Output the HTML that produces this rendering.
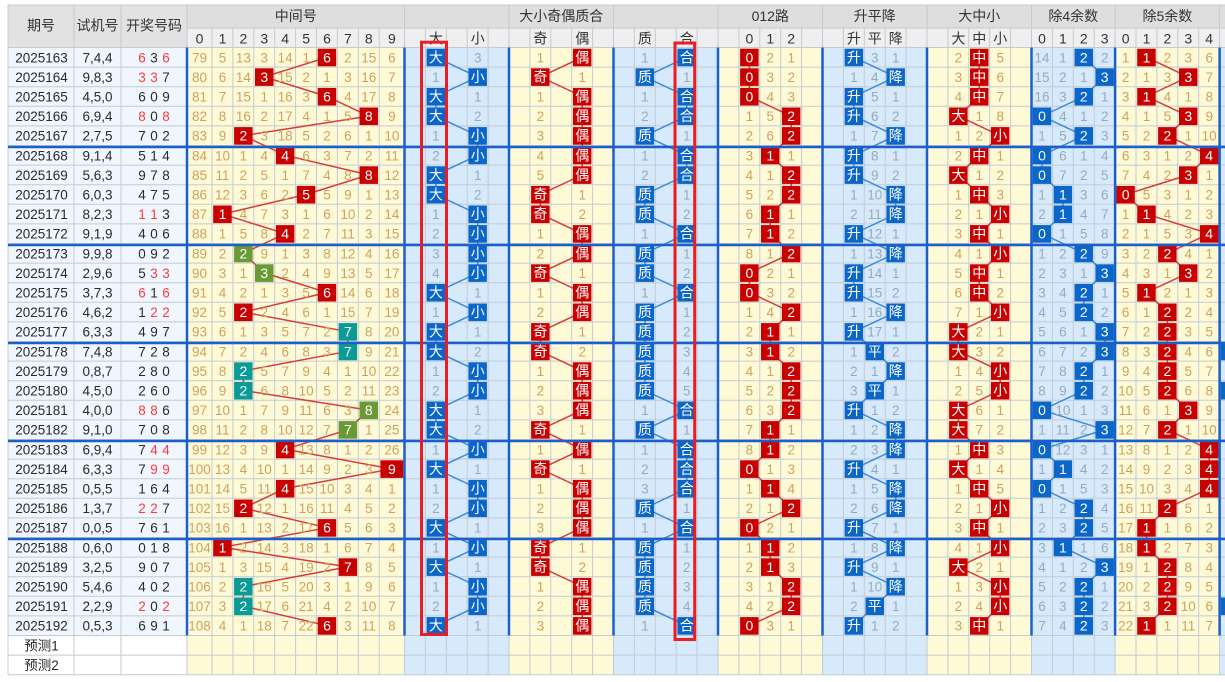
<!DOCTYPE html>
<html><head><meta charset="utf-8">
<style>
html,body{margin:0;padding:0;background:#fff}
body{width:1225px;height:682px;overflow:hidden}
svg{display:block}
text{font-family:"Liberation Sans","Noto Sans CJK SC",sans-serif;font-size:13.5px;text-anchor:middle}
.k{fill:#2a2a2a}
.rd{fill:#ff3a3a}
.t{fill:#c9a266}
.g{fill:#9aa9b9}
.w{fill:#fff;font-size:14px}
.h{fill:#333;font-size:14px}
.R{fill:#c80000}
.B{fill:#0a66c8}
.G{fill:#6a9a35}
.C{fill:#0a9b97}
</style></head><body>
<svg width="1225" height="682" viewBox="0 0 1225 682">
<!-- header bg -->
<rect x="8" y="5" width="1217" height="23" fill="#dedede"/>
<rect x="187" y="28" width="1038" height="19.5" fill="#efefef"/>
<rect x="8" y="5" width="179" height="42.5" fill="#e2e2e2"/>
<!-- body bg -->
<rect x="8" y="47.5" width="179" height="588" fill="#f0f6fd"/>
<g fill="#fffad6">
<rect x="187" y="47.5" width="217.5" height="627.2"/>
<rect x="509" y="47.5" width="104.5" height="627.2"/>
<rect x="718" y="47.5" width="104.5" height="627.2"/>
<rect x="927" y="47.5" width="104.5" height="627.2"/>
<rect x="1115.1" y="47.5" width="104.5" height="627.2"/>
</g>
<g fill="#d6eafb">
<rect x="404.5" y="47.5" width="104.5" height="627.2"/>
<rect x="613.5" y="47.5" width="104.5" height="627.2"/>
<rect x="822.5" y="47.5" width="104.5" height="627.2"/>
<rect x="1031.5" y="47.5" width="83.6" height="627.2"/>
<rect x="1219.6" y="47.5" width="6" height="627.2"/>
</g>
<!-- grid -->
<path fill="none" stroke="#c3cad3" stroke-width="1" d="M8 5V674.7M74 5V674.7M121 5V674.7M187 5V674.7M404.5 5V674.7M509 5V674.7M613.5 5V674.7M718 5V674.7M822.5 5V674.7M927 5V674.7M1031.5 5V674.7M1115.1 5V674.7M1219.6 5V674.7
M212 28V674.7M232.9 28V674.7M253.8 28V674.7M274.7 28V674.7M295.6 28V674.7M316.5 28V674.7M337.4 28V674.7M358.3 28V674.7M379.2 28V674.7
M425.4 28V674.7M446.3 28V674.7M467.2 28V674.7M488.1 28V674.7M529.9 28V674.7M550.8 28V674.7M571.7 28V674.7M592.6 28V674.7M634.4 28V674.7M655.3 28V674.7M676.2 28V674.7M697.1 28V674.7
M738.9 28V674.7M759.8 28V674.7M780.7 28V674.7M801.6 28V674.7M843.4 28V674.7M864.3 28V674.7M885.2 28V674.7M906.1 28V674.7M947.9 28V674.7M968.8 28V674.7M989.7 28V674.7M1010.6 28V674.7
M1052.4 28V674.7M1073.3 28V674.7M1094.2 28V674.7M1136 28V674.7M1156.9 28V674.7M1177.8 28V674.7M1198.7 28V674.7
M8 5H1225M187 28H1225M8 47.5H1225M8 67.1H1225M8 86.7H1225M8 106.3H1225M8 125.9H1225M8 145.5H1225M8 165.1H1225M8 184.7H1225M8 204.3H1225M8 223.9H1225M8 243.5H1225M8 263.1H1225M8 282.7H1225M8 302.3H1225M8 321.9H1225M8 341.5H1225M8 361.1H1225M8 380.7H1225M8 400.3H1225M8 419.9H1225M8 439.5H1225M8 459.1H1225M8 478.7H1225M8 498.3H1225M8 517.9H1225M8 537.5H1225M8 557.1H1225M8 576.7H1225M8 596.3H1225M8 615.9H1225M8 635.5H1225M8 655.1H1225M8 674.7H1225"/>
<!-- header text -->
<text class="h" y="30.5"><tspan x="41">期号</tspan><tspan x="97.5">试机号</tspan><tspan x="154">开奖号码</tspan></text>
<text class="h" y="21"><tspan x="295.8">中间号</tspan><tspan x="561.3">大小奇偶质合</tspan><tspan x="770.3">012路</tspan><tspan x="874.8">升平降</tspan><tspan x="979.3">大中小</tspan><tspan x="1073.3">除4余数</tspan><tspan x="1167.4">除5余数</tspan></text>
<text class="h" y="43.5"><tspan x="199.5">0</tspan><tspan x="222.5">1</tspan><tspan x="243.4">2</tspan><tspan x="264.3">3</tspan><tspan x="285.2">4</tspan><tspan x="306.1">5</tspan><tspan x="327">6</tspan><tspan x="347.9">7</tspan><tspan x="368.8">8</tspan><tspan x="391.9">9</tspan><tspan x="435.9">大</tspan><tspan x="477.7">小</tspan><tspan x="540.4">奇</tspan><tspan x="582.2">偶</tspan><tspan x="644.9">质</tspan><tspan x="686.7">合</tspan><tspan x="749.4">0</tspan><tspan x="770.3">1</tspan><tspan x="791.2">2</tspan><tspan x="853.9">升</tspan><tspan x="874.8">平</tspan><tspan x="895.7">降</tspan><tspan x="958.4">大</tspan><tspan x="979.3">中</tspan><tspan x="1000.2">小</tspan><tspan x="1042">0</tspan><tspan x="1062.9">1</tspan><tspan x="1083.8">2</tspan><tspan x="1104.7">3</tspan><tspan x="1125.6">0</tspan><tspan x="1146.5">1</tspan><tspan x="1167.4">2</tspan><tspan x="1188.3">3</tspan><tspan x="1209.2">4</tspan></text>
<!-- connectors -->
<g fill="none" stroke-width="1.5">
<polyline stroke="#d63c3c" points="327,57.3 264.3,76.9 327,96.5 368.8,116.1 243.4,135.7 285.2,155.3 368.8,174.9 306.1,194.5 222.5,214.1 285.2,233.7 243.4,253.3 264.3,272.9 327,292.5 243.4,312.1 347.9,331.7 347.9,351.3 243.4,370.9 243.4,390.5 368.8,410.1 347.9,429.7 285.2,449.3 391.9,468.9 285.2,488.5 243.4,508.1 327,527.7 222.5,547.3 347.9,566.9 243.4,586.5 243.4,606.1 327,625.7"/>
<polyline stroke="#3d8ad9" points="435.9,57.3 477.7,76.9 435.9,96.5 435.9,116.1 477.7,135.7 477.7,155.3 435.9,174.9 435.9,194.5 477.7,214.1 477.7,233.7 477.7,253.3 477.7,272.9 435.9,292.5 477.7,312.1 435.9,331.7 435.9,351.3 477.7,370.9 477.7,390.5 435.9,410.1 435.9,429.7 477.7,449.3 435.9,468.9 477.7,488.5 477.7,508.1 435.9,527.7 477.7,547.3 435.9,566.9 477.7,586.5 477.7,606.1 435.9,625.7"/>
<polyline stroke="#d63c3c" points="582.2,57.3 540.4,76.9 582.2,96.5 582.2,116.1 582.2,135.7 582.2,155.3 582.2,174.9 540.4,194.5 540.4,214.1 582.2,233.7 582.2,253.3 540.4,272.9 582.2,292.5 582.2,312.1 540.4,331.7 540.4,351.3 582.2,370.9 582.2,390.5 582.2,410.1 540.4,429.7 582.2,449.3 540.4,468.9 582.2,488.5 582.2,508.1 582.2,527.7 540.4,547.3 540.4,566.9 582.2,586.5 582.2,606.1 582.2,625.7"/>
<polyline stroke="#3d8ad9" points="686.7,57.3 644.9,76.9 686.7,96.5 686.7,116.1 644.9,135.7 686.7,155.3 686.7,174.9 644.9,194.5 644.9,214.1 686.7,233.7 644.9,253.3 644.9,272.9 686.7,292.5 644.9,312.1 644.9,331.7 644.9,351.3 644.9,370.9 644.9,390.5 686.7,410.1 644.9,429.7 686.7,449.3 686.7,468.9 686.7,488.5 644.9,508.1 686.7,527.7 644.9,547.3 644.9,566.9 644.9,586.5 644.9,606.1 686.7,625.7"/>
<polyline stroke="#d63c3c" points="749.4,57.3 749.4,76.9 749.4,96.5 791.2,116.1 791.2,135.7 770.3,155.3 791.2,174.9 791.2,194.5 770.3,214.1 770.3,233.7 791.2,253.3 749.4,272.9 749.4,292.5 791.2,312.1 770.3,331.7 770.3,351.3 791.2,370.9 791.2,390.5 791.2,410.1 770.3,429.7 770.3,449.3 749.4,468.9 770.3,488.5 791.2,508.1 749.4,527.7 770.3,547.3 770.3,566.9 791.2,586.5 791.2,606.1 749.4,625.7"/>
<polyline stroke="#3d8ad9" points="853.9,57.3 895.7,76.9 853.9,96.5 853.9,116.1 895.7,135.7 853.9,155.3 853.9,174.9 895.7,194.5 895.7,214.1 853.9,233.7 895.7,253.3 853.9,272.9 853.9,292.5 895.7,312.1 853.9,331.7 874.8,351.3 895.7,370.9 874.8,390.5 853.9,410.1 895.7,429.7 895.7,449.3 853.9,468.9 895.7,488.5 895.7,508.1 853.9,527.7 895.7,547.3 853.9,566.9 895.7,586.5 874.8,606.1 853.9,625.7"/>
<polyline stroke="#d63c3c" points="979.3,57.3 979.3,76.9 979.3,96.5 958.4,116.1 1000.2,135.7 979.3,155.3 958.4,174.9 979.3,194.5 1000.2,214.1 979.3,233.7 1000.2,253.3 979.3,272.9 979.3,292.5 1000.2,312.1 958.4,331.7 958.4,351.3 1000.2,370.9 1000.2,390.5 958.4,410.1 958.4,429.7 979.3,449.3 958.4,468.9 979.3,488.5 1000.2,508.1 979.3,527.7 1000.2,547.3 958.4,566.9 1000.2,586.5 1000.2,606.1 979.3,625.7"/>
<polyline stroke="#3d8ad9" points="1083.8,57.3 1104.7,76.9 1083.8,96.5 1042,116.1 1083.8,135.7 1042,155.3 1042,174.9 1062.9,194.5 1062.9,214.1 1042,233.7 1083.8,253.3 1104.7,272.9 1083.8,292.5 1083.8,312.1 1104.7,331.7 1104.7,351.3 1083.8,370.9 1083.8,390.5 1042,410.1 1104.7,429.7 1042,449.3 1062.9,468.9 1042,488.5 1083.8,508.1 1083.8,527.7 1062.9,547.3 1104.7,566.9 1083.8,586.5 1083.8,606.1 1083.8,625.7"/>
<polyline stroke="#d63c3c" points="1146.5,57.3 1188.3,76.9 1146.5,96.5 1188.3,116.1 1167.4,135.7 1209.2,155.3 1188.3,174.9 1125.6,194.5 1146.5,214.1 1209.2,233.7 1167.4,253.3 1188.3,272.9 1146.5,292.5 1167.4,312.1 1167.4,331.7 1167.4,351.3 1167.4,370.9 1167.4,390.5 1188.3,410.1 1167.4,429.7 1209.2,449.3 1209.2,468.9 1209.2,488.5 1167.4,508.1 1146.5,527.7 1146.5,547.3 1167.4,566.9 1167.4,586.5 1167.4,606.1 1146.5,625.7"/>
</g>

<!-- rows -->
<g transform="translate(0,47.5)">
<text class="k" y="14.8"><tspan x="41.5">2025163</tspan><tspan x="97.5">7,4,4</tspan><tspan x="142" class="rd">6</tspan><tspan x="154">3</tspan><tspan x="166" class="rd">6</tspan></text>
<text class="t" y="14.8"><tspan x="199.5">79</tspan><tspan x="222.5">5</tspan><tspan x="243.4">13</tspan><tspan x="264.3">3</tspan><tspan x="285.2">14</tspan><tspan x="306.1">1</tspan><tspan x="347.9">2</tspan><tspan x="368.8">15</tspan><tspan x="391.9">6</tspan><tspan x="540.4">1</tspan><tspan x="770.3">2</tspan><tspan x="791.2">1</tspan><tspan x="958.4">2</tspan><tspan x="1000.2">5</tspan><tspan x="1125.6">1</tspan><tspan x="1167.4">2</tspan><tspan x="1188.3">3</tspan><tspan x="1209.2">6</tspan></text>
<text class="g" y="14.8"><tspan x="477.7">3</tspan><tspan x="644.9">1</tspan><tspan x="874.8">3</tspan><tspan x="895.7">1</tspan><tspan x="1042">14</tspan><tspan x="1062.9">1</tspan><tspan x="1104.7">2</tspan></text>
<rect class="R" x="317.7" y="1.2" width="18.5" height="17.6"/><rect class="B" x="426.6" y="1.2" width="18.5" height="17.6"/><rect class="R" x="572.9" y="1.2" width="18.5" height="17.6"/><rect class="B" x="677.4" y="1.2" width="18.5" height="17.6"/><rect class="R" x="740.1" y="1.2" width="18.5" height="17.6"/><rect class="B" x="844.6" y="1.2" width="18.5" height="17.6"/><rect class="R" x="970" y="1.2" width="18.5" height="17.6"/><rect class="B" x="1074.5" y="1.2" width="18.5" height="17.6"/><rect class="R" x="1137.2" y="1.2" width="18.5" height="17.6"/>
<text class="w" y="14.8"><tspan x="327">6</tspan><tspan x="435.9">大</tspan><tspan x="582.2">偶</tspan><tspan x="686.7">合</tspan><tspan x="749.4">0</tspan><tspan x="853.9">升</tspan><tspan x="979.3">中</tspan><tspan x="1083.8">2</tspan><tspan x="1146.5">1</tspan></text>
</g>

<g transform="translate(0,67.1)">
<text class="k" y="14.8"><tspan x="41.5">2025164</tspan><tspan x="97.5">9,8,3</tspan><tspan x="142" class="rd">3</tspan><tspan x="154" class="rd">3</tspan><tspan x="166">7</tspan></text>
<text class="t" y="14.8"><tspan x="199.5">80</tspan><tspan x="222.5">6</tspan><tspan x="243.4">14</tspan><tspan x="285.2">15</tspan><tspan x="306.1">2</tspan><tspan x="327">1</tspan><tspan x="347.9">3</tspan><tspan x="368.8">16</tspan><tspan x="391.9">7</tspan><tspan x="582.2">1</tspan><tspan x="770.3">3</tspan><tspan x="791.2">2</tspan><tspan x="958.4">3</tspan><tspan x="1000.2">6</tspan><tspan x="1125.6">2</tspan><tspan x="1146.5">1</tspan><tspan x="1167.4">3</tspan><tspan x="1209.2">7</tspan></text>
<text class="g" y="14.8"><tspan x="435.9">1</tspan><tspan x="686.7">1</tspan><tspan x="853.9">1</tspan><tspan x="874.8">4</tspan><tspan x="1042">15</tspan><tspan x="1062.9">2</tspan><tspan x="1083.8">1</tspan></text>
<rect class="R" x="255" y="1.2" width="18.5" height="17.6"/><rect class="B" x="468.4" y="1.2" width="18.5" height="17.6"/><rect class="R" x="531.1" y="1.2" width="18.5" height="17.6"/><rect class="B" x="635.6" y="1.2" width="18.5" height="17.6"/><rect class="R" x="740.1" y="1.2" width="18.5" height="17.6"/><rect class="B" x="886.4" y="1.2" width="18.5" height="17.6"/><rect class="R" x="970" y="1.2" width="18.5" height="17.6"/><rect class="B" x="1095.4" y="1.2" width="18.5" height="17.6"/><rect class="R" x="1179" y="1.2" width="18.5" height="17.6"/>
<text class="w" y="14.8"><tspan x="264.3">3</tspan><tspan x="477.7">小</tspan><tspan x="540.4">奇</tspan><tspan x="644.9">质</tspan><tspan x="749.4">0</tspan><tspan x="895.7">降</tspan><tspan x="979.3">中</tspan><tspan x="1104.7">3</tspan><tspan x="1188.3">3</tspan></text>
</g>

<g transform="translate(0,86.7)">
<text class="k" y="14.8"><tspan x="41.5">2025165</tspan><tspan x="97.5">4,5,0</tspan><tspan x="142">6</tspan><tspan x="154">0</tspan><tspan x="166">9</tspan></text>
<text class="t" y="14.8"><tspan x="199.5">81</tspan><tspan x="222.5">7</tspan><tspan x="243.4">15</tspan><tspan x="264.3">1</tspan><tspan x="285.2">16</tspan><tspan x="306.1">3</tspan><tspan x="347.9">4</tspan><tspan x="368.8">17</tspan><tspan x="391.9">8</tspan><tspan x="540.4">1</tspan><tspan x="770.3">4</tspan><tspan x="791.2">3</tspan><tspan x="958.4">4</tspan><tspan x="1000.2">7</tspan><tspan x="1125.6">3</tspan><tspan x="1167.4">4</tspan><tspan x="1188.3">1</tspan><tspan x="1209.2">8</tspan></text>
<text class="g" y="14.8"><tspan x="477.7">1</tspan><tspan x="644.9">1</tspan><tspan x="874.8">5</tspan><tspan x="895.7">1</tspan><tspan x="1042">16</tspan><tspan x="1062.9">3</tspan><tspan x="1104.7">1</tspan></text>
<rect class="R" x="317.7" y="1.2" width="18.5" height="17.6"/><rect class="B" x="426.6" y="1.2" width="18.5" height="17.6"/><rect class="R" x="572.9" y="1.2" width="18.5" height="17.6"/><rect class="B" x="677.4" y="1.2" width="18.5" height="17.6"/><rect class="R" x="740.1" y="1.2" width="18.5" height="17.6"/><rect class="B" x="844.6" y="1.2" width="18.5" height="17.6"/><rect class="R" x="970" y="1.2" width="18.5" height="17.6"/><rect class="B" x="1074.5" y="1.2" width="18.5" height="17.6"/><rect class="R" x="1137.2" y="1.2" width="18.5" height="17.6"/>
<text class="w" y="14.8"><tspan x="327">6</tspan><tspan x="435.9">大</tspan><tspan x="582.2">偶</tspan><tspan x="686.7">合</tspan><tspan x="749.4">0</tspan><tspan x="853.9">升</tspan><tspan x="979.3">中</tspan><tspan x="1083.8">2</tspan><tspan x="1146.5">1</tspan></text>
</g>

<g transform="translate(0,106.3)">
<text class="k" y="14.8"><tspan x="41.5">2025166</tspan><tspan x="97.5">6,9,4</tspan><tspan x="142" class="rd">8</tspan><tspan x="154">0</tspan><tspan x="166" class="rd">8</tspan></text>
<text class="t" y="14.8"><tspan x="199.5">82</tspan><tspan x="222.5">8</tspan><tspan x="243.4">16</tspan><tspan x="264.3">2</tspan><tspan x="285.2">17</tspan><tspan x="306.1">4</tspan><tspan x="327">1</tspan><tspan x="347.9">5</tspan><tspan x="391.9">9</tspan><tspan x="540.4">2</tspan><tspan x="749.4">1</tspan><tspan x="770.3">5</tspan><tspan x="979.3">1</tspan><tspan x="1000.2">8</tspan><tspan x="1125.6">4</tspan><tspan x="1146.5">1</tspan><tspan x="1167.4">5</tspan><tspan x="1209.2">9</tspan></text>
<text class="g" y="14.8"><tspan x="477.7">2</tspan><tspan x="644.9">2</tspan><tspan x="874.8">6</tspan><tspan x="895.7">2</tspan><tspan x="1062.9">4</tspan><tspan x="1083.8">1</tspan><tspan x="1104.7">2</tspan></text>
<rect class="R" x="359.5" y="1.2" width="18.5" height="17.6"/><rect class="B" x="426.6" y="1.2" width="18.5" height="17.6"/><rect class="R" x="572.9" y="1.2" width="18.5" height="17.6"/><rect class="B" x="677.4" y="1.2" width="18.5" height="17.6"/><rect class="R" x="781.9" y="1.2" width="18.5" height="17.6"/><rect class="B" x="844.6" y="1.2" width="18.5" height="17.6"/><rect class="R" x="949.1" y="1.2" width="18.5" height="17.6"/><rect class="B" x="1032.7" y="1.2" width="18.5" height="17.6"/><rect class="R" x="1179" y="1.2" width="18.5" height="17.6"/>
<text class="w" y="14.8"><tspan x="368.8">8</tspan><tspan x="435.9">大</tspan><tspan x="582.2">偶</tspan><tspan x="686.7">合</tspan><tspan x="791.2">2</tspan><tspan x="853.9">升</tspan><tspan x="958.4">大</tspan><tspan x="1042">0</tspan><tspan x="1188.3">3</tspan></text>
</g>

<g transform="translate(0,125.9)">
<text class="k" y="14.8"><tspan x="41.5">2025167</tspan><tspan x="97.5">2,7,5</tspan><tspan x="142">7</tspan><tspan x="154">0</tspan><tspan x="166">2</tspan></text>
<text class="t" y="14.8"><tspan x="199.5">83</tspan><tspan x="222.5">9</tspan><tspan x="264.3">3</tspan><tspan x="285.2">18</tspan><tspan x="306.1">5</tspan><tspan x="327">2</tspan><tspan x="347.9">6</tspan><tspan x="368.8">1</tspan><tspan x="391.9">10</tspan><tspan x="540.4">3</tspan><tspan x="749.4">2</tspan><tspan x="770.3">6</tspan><tspan x="958.4">1</tspan><tspan x="979.3">2</tspan><tspan x="1125.6">5</tspan><tspan x="1146.5">2</tspan><tspan x="1188.3">1</tspan><tspan x="1209.2">10</tspan></text>
<text class="g" y="14.8"><tspan x="435.9">1</tspan><tspan x="686.7">1</tspan><tspan x="853.9">1</tspan><tspan x="874.8">7</tspan><tspan x="1042">1</tspan><tspan x="1062.9">5</tspan><tspan x="1104.7">3</tspan></text>
<rect class="R" x="234.1" y="1.2" width="18.5" height="17.6"/><rect class="B" x="468.4" y="1.2" width="18.5" height="17.6"/><rect class="R" x="572.9" y="1.2" width="18.5" height="17.6"/><rect class="B" x="635.6" y="1.2" width="18.5" height="17.6"/><rect class="R" x="781.9" y="1.2" width="18.5" height="17.6"/><rect class="B" x="886.4" y="1.2" width="18.5" height="17.6"/><rect class="R" x="990.9" y="1.2" width="18.5" height="17.6"/><rect class="B" x="1074.5" y="1.2" width="18.5" height="17.6"/><rect class="R" x="1158.1" y="1.2" width="18.5" height="17.6"/>
<text class="w" y="14.8"><tspan x="243.4">2</tspan><tspan x="477.7">小</tspan><tspan x="582.2">偶</tspan><tspan x="644.9">质</tspan><tspan x="791.2">2</tspan><tspan x="895.7">降</tspan><tspan x="1000.2">小</tspan><tspan x="1083.8">2</tspan><tspan x="1167.4">2</tspan></text>
</g>

<g transform="translate(0,145.5)">
<text class="k" y="14.8"><tspan x="41.5">2025168</tspan><tspan x="97.5">9,1,4</tspan><tspan x="142">5</tspan><tspan x="154">1</tspan><tspan x="166">4</tspan></text>
<text class="t" y="14.8"><tspan x="199.5">84</tspan><tspan x="222.5">10</tspan><tspan x="243.4">1</tspan><tspan x="264.3">4</tspan><tspan x="306.1">6</tspan><tspan x="327">3</tspan><tspan x="347.9">7</tspan><tspan x="368.8">2</tspan><tspan x="391.9">11</tspan><tspan x="540.4">4</tspan><tspan x="749.4">3</tspan><tspan x="791.2">1</tspan><tspan x="958.4">2</tspan><tspan x="1000.2">1</tspan><tspan x="1125.6">6</tspan><tspan x="1146.5">3</tspan><tspan x="1167.4">1</tspan><tspan x="1188.3">2</tspan></text>
<text class="g" y="14.8"><tspan x="435.9">2</tspan><tspan x="644.9">1</tspan><tspan x="874.8">8</tspan><tspan x="895.7">1</tspan><tspan x="1062.9">6</tspan><tspan x="1083.8">1</tspan><tspan x="1104.7">4</tspan></text>
<rect class="R" x="275.9" y="1.2" width="18.5" height="17.6"/><rect class="B" x="468.4" y="1.2" width="18.5" height="17.6"/><rect class="R" x="572.9" y="1.2" width="18.5" height="17.6"/><rect class="B" x="677.4" y="1.2" width="18.5" height="17.6"/><rect class="R" x="761" y="1.2" width="18.5" height="17.6"/><rect class="B" x="844.6" y="1.2" width="18.5" height="17.6"/><rect class="R" x="970" y="1.2" width="18.5" height="17.6"/><rect class="B" x="1032.7" y="1.2" width="18.5" height="17.6"/><rect class="R" x="1199.9" y="1.2" width="18.5" height="17.6"/>
<text class="w" y="14.8"><tspan x="285.2">4</tspan><tspan x="477.7">小</tspan><tspan x="582.2">偶</tspan><tspan x="686.7">合</tspan><tspan x="770.3">1</tspan><tspan x="853.9">升</tspan><tspan x="979.3">中</tspan><tspan x="1042">0</tspan><tspan x="1209.2">4</tspan></text>
</g>

<g transform="translate(0,165.1)">
<text class="k" y="14.8"><tspan x="41.5">2025169</tspan><tspan x="97.5">5,6,3</tspan><tspan x="142">9</tspan><tspan x="154">7</tspan><tspan x="166">8</tspan></text>
<text class="t" y="14.8"><tspan x="199.5">85</tspan><tspan x="222.5">11</tspan><tspan x="243.4">2</tspan><tspan x="264.3">5</tspan><tspan x="285.2">1</tspan><tspan x="306.1">7</tspan><tspan x="327">4</tspan><tspan x="347.9">8</tspan><tspan x="391.9">12</tspan><tspan x="540.4">5</tspan><tspan x="749.4">4</tspan><tspan x="770.3">1</tspan><tspan x="979.3">1</tspan><tspan x="1000.2">2</tspan><tspan x="1125.6">7</tspan><tspan x="1146.5">4</tspan><tspan x="1167.4">2</tspan><tspan x="1209.2">1</tspan></text>
<text class="g" y="14.8"><tspan x="477.7">1</tspan><tspan x="644.9">2</tspan><tspan x="874.8">9</tspan><tspan x="895.7">2</tspan><tspan x="1062.9">7</tspan><tspan x="1083.8">2</tspan><tspan x="1104.7">5</tspan></text>
<rect class="R" x="359.5" y="1.2" width="18.5" height="17.6"/><rect class="B" x="426.6" y="1.2" width="18.5" height="17.6"/><rect class="R" x="572.9" y="1.2" width="18.5" height="17.6"/><rect class="B" x="677.4" y="1.2" width="18.5" height="17.6"/><rect class="R" x="781.9" y="1.2" width="18.5" height="17.6"/><rect class="B" x="844.6" y="1.2" width="18.5" height="17.6"/><rect class="R" x="949.1" y="1.2" width="18.5" height="17.6"/><rect class="B" x="1032.7" y="1.2" width="18.5" height="17.6"/><rect class="R" x="1179" y="1.2" width="18.5" height="17.6"/>
<text class="w" y="14.8"><tspan x="368.8">8</tspan><tspan x="435.9">大</tspan><tspan x="582.2">偶</tspan><tspan x="686.7">合</tspan><tspan x="791.2">2</tspan><tspan x="853.9">升</tspan><tspan x="958.4">大</tspan><tspan x="1042">0</tspan><tspan x="1188.3">3</tspan></text>
</g>

<g transform="translate(0,184.7)">
<text class="k" y="14.8"><tspan x="41.5">2025170</tspan><tspan x="97.5">6,0,3</tspan><tspan x="142">4</tspan><tspan x="154">7</tspan><tspan x="166">5</tspan></text>
<text class="t" y="14.8"><tspan x="199.5">86</tspan><tspan x="222.5">12</tspan><tspan x="243.4">3</tspan><tspan x="264.3">6</tspan><tspan x="285.2">2</tspan><tspan x="327">5</tspan><tspan x="347.9">9</tspan><tspan x="368.8">1</tspan><tspan x="391.9">13</tspan><tspan x="582.2">1</tspan><tspan x="749.4">5</tspan><tspan x="770.3">2</tspan><tspan x="958.4">1</tspan><tspan x="1000.2">3</tspan><tspan x="1146.5">5</tspan><tspan x="1167.4">3</tspan><tspan x="1188.3">1</tspan><tspan x="1209.2">2</tspan></text>
<text class="g" y="14.8"><tspan x="477.7">2</tspan><tspan x="686.7">1</tspan><tspan x="853.9">1</tspan><tspan x="874.8">10</tspan><tspan x="1042">1</tspan><tspan x="1083.8">3</tspan><tspan x="1104.7">6</tspan></text>
<rect class="R" x="296.8" y="1.2" width="18.5" height="17.6"/><rect class="B" x="426.6" y="1.2" width="18.5" height="17.6"/><rect class="R" x="531.1" y="1.2" width="18.5" height="17.6"/><rect class="B" x="635.6" y="1.2" width="18.5" height="17.6"/><rect class="R" x="781.9" y="1.2" width="18.5" height="17.6"/><rect class="B" x="886.4" y="1.2" width="18.5" height="17.6"/><rect class="R" x="970" y="1.2" width="18.5" height="17.6"/><rect class="B" x="1053.6" y="1.2" width="18.5" height="17.6"/><rect class="R" x="1116.3" y="1.2" width="18.5" height="17.6"/>
<text class="w" y="14.8"><tspan x="306.1">5</tspan><tspan x="435.9">大</tspan><tspan x="540.4">奇</tspan><tspan x="644.9">质</tspan><tspan x="791.2">2</tspan><tspan x="895.7">降</tspan><tspan x="979.3">中</tspan><tspan x="1062.9">1</tspan><tspan x="1125.6">0</tspan></text>
</g>

<g transform="translate(0,204.3)">
<text class="k" y="14.8"><tspan x="41.5">2025171</tspan><tspan x="97.5">8,2,3</tspan><tspan x="142" class="rd">1</tspan><tspan x="154" class="rd">1</tspan><tspan x="166">3</tspan></text>
<text class="t" y="14.8"><tspan x="199.5">87</tspan><tspan x="243.4">4</tspan><tspan x="264.3">7</tspan><tspan x="285.2">3</tspan><tspan x="306.1">1</tspan><tspan x="327">6</tspan><tspan x="347.9">10</tspan><tspan x="368.8">2</tspan><tspan x="391.9">14</tspan><tspan x="582.2">2</tspan><tspan x="749.4">6</tspan><tspan x="791.2">1</tspan><tspan x="958.4">2</tspan><tspan x="979.3">1</tspan><tspan x="1125.6">1</tspan><tspan x="1167.4">4</tspan><tspan x="1188.3">2</tspan><tspan x="1209.2">3</tspan></text>
<text class="g" y="14.8"><tspan x="435.9">1</tspan><tspan x="686.7">2</tspan><tspan x="853.9">2</tspan><tspan x="874.8">11</tspan><tspan x="1042">2</tspan><tspan x="1083.8">4</tspan><tspan x="1104.7">7</tspan></text>
<rect class="R" x="213.2" y="1.2" width="18.5" height="17.6"/><rect class="B" x="468.4" y="1.2" width="18.5" height="17.6"/><rect class="R" x="531.1" y="1.2" width="18.5" height="17.6"/><rect class="B" x="635.6" y="1.2" width="18.5" height="17.6"/><rect class="R" x="761" y="1.2" width="18.5" height="17.6"/><rect class="B" x="886.4" y="1.2" width="18.5" height="17.6"/><rect class="R" x="990.9" y="1.2" width="18.5" height="17.6"/><rect class="B" x="1053.6" y="1.2" width="18.5" height="17.6"/><rect class="R" x="1137.2" y="1.2" width="18.5" height="17.6"/>
<text class="w" y="14.8"><tspan x="222.5">1</tspan><tspan x="477.7">小</tspan><tspan x="540.4">奇</tspan><tspan x="644.9">质</tspan><tspan x="770.3">1</tspan><tspan x="895.7">降</tspan><tspan x="1000.2">小</tspan><tspan x="1062.9">1</tspan><tspan x="1146.5">1</tspan></text>
</g>

<g transform="translate(0,223.9)">
<text class="k" y="14.8"><tspan x="41.5">2025172</tspan><tspan x="97.5">9,1,9</tspan><tspan x="142">4</tspan><tspan x="154">0</tspan><tspan x="166">6</tspan></text>
<text class="t" y="14.8"><tspan x="199.5">88</tspan><tspan x="222.5">1</tspan><tspan x="243.4">5</tspan><tspan x="264.3">8</tspan><tspan x="306.1">2</tspan><tspan x="327">7</tspan><tspan x="347.9">11</tspan><tspan x="368.8">3</tspan><tspan x="391.9">15</tspan><tspan x="540.4">1</tspan><tspan x="749.4">7</tspan><tspan x="791.2">2</tspan><tspan x="958.4">3</tspan><tspan x="1000.2">1</tspan><tspan x="1125.6">2</tspan><tspan x="1146.5">1</tspan><tspan x="1167.4">5</tspan><tspan x="1188.3">3</tspan></text>
<text class="g" y="14.8"><tspan x="435.9">2</tspan><tspan x="644.9">1</tspan><tspan x="874.8">12</tspan><tspan x="895.7">1</tspan><tspan x="1062.9">1</tspan><tspan x="1083.8">5</tspan><tspan x="1104.7">8</tspan></text>
<rect class="R" x="275.9" y="1.2" width="18.5" height="17.6"/><rect class="B" x="468.4" y="1.2" width="18.5" height="17.6"/><rect class="R" x="572.9" y="1.2" width="18.5" height="17.6"/><rect class="B" x="677.4" y="1.2" width="18.5" height="17.6"/><rect class="R" x="761" y="1.2" width="18.5" height="17.6"/><rect class="B" x="844.6" y="1.2" width="18.5" height="17.6"/><rect class="R" x="970" y="1.2" width="18.5" height="17.6"/><rect class="B" x="1032.7" y="1.2" width="18.5" height="17.6"/><rect class="R" x="1199.9" y="1.2" width="18.5" height="17.6"/>
<text class="w" y="14.8"><tspan x="285.2">4</tspan><tspan x="477.7">小</tspan><tspan x="582.2">偶</tspan><tspan x="686.7">合</tspan><tspan x="770.3">1</tspan><tspan x="853.9">升</tspan><tspan x="979.3">中</tspan><tspan x="1042">0</tspan><tspan x="1209.2">4</tspan></text>
</g>

<g transform="translate(0,243.5)">
<text class="k" y="14.8"><tspan x="41.5">2025173</tspan><tspan x="97.5">9,9,8</tspan><tspan x="142">0</tspan><tspan x="154">9</tspan><tspan x="166">2</tspan></text>
<text class="t" y="14.8"><tspan x="199.5">89</tspan><tspan x="222.5">2</tspan><tspan x="264.3">9</tspan><tspan x="285.2">1</tspan><tspan x="306.1">3</tspan><tspan x="327">8</tspan><tspan x="347.9">12</tspan><tspan x="368.8">4</tspan><tspan x="391.9">16</tspan><tspan x="540.4">2</tspan><tspan x="749.4">8</tspan><tspan x="770.3">1</tspan><tspan x="958.4">4</tspan><tspan x="979.3">1</tspan><tspan x="1125.6">3</tspan><tspan x="1146.5">2</tspan><tspan x="1188.3">4</tspan><tspan x="1209.2">1</tspan></text>
<text class="g" y="14.8"><tspan x="435.9">3</tspan><tspan x="686.7">1</tspan><tspan x="853.9">1</tspan><tspan x="874.8">13</tspan><tspan x="1042">1</tspan><tspan x="1062.9">2</tspan><tspan x="1104.7">9</tspan></text>
<rect class="G" x="234.1" y="1.2" width="18.5" height="17.6"/><rect class="B" x="468.4" y="1.2" width="18.5" height="17.6"/><rect class="R" x="572.9" y="1.2" width="18.5" height="17.6"/><rect class="B" x="635.6" y="1.2" width="18.5" height="17.6"/><rect class="R" x="781.9" y="1.2" width="18.5" height="17.6"/><rect class="B" x="886.4" y="1.2" width="18.5" height="17.6"/><rect class="R" x="990.9" y="1.2" width="18.5" height="17.6"/><rect class="B" x="1074.5" y="1.2" width="18.5" height="17.6"/><rect class="R" x="1158.1" y="1.2" width="18.5" height="17.6"/>
<text class="w" y="14.8"><tspan x="243.4">2</tspan><tspan x="477.7">小</tspan><tspan x="582.2">偶</tspan><tspan x="644.9">质</tspan><tspan x="791.2">2</tspan><tspan x="895.7">降</tspan><tspan x="1000.2">小</tspan><tspan x="1083.8">2</tspan><tspan x="1167.4">2</tspan></text>
</g>

<g transform="translate(0,263.1)">
<text class="k" y="14.8"><tspan x="41.5">2025174</tspan><tspan x="97.5">2,9,6</tspan><tspan x="142">5</tspan><tspan x="154" class="rd">3</tspan><tspan x="166" class="rd">3</tspan></text>
<text class="t" y="14.8"><tspan x="199.5">90</tspan><tspan x="222.5">3</tspan><tspan x="243.4">1</tspan><tspan x="285.2">2</tspan><tspan x="306.1">4</tspan><tspan x="327">9</tspan><tspan x="347.9">13</tspan><tspan x="368.8">5</tspan><tspan x="391.9">17</tspan><tspan x="582.2">1</tspan><tspan x="770.3">2</tspan><tspan x="791.2">1</tspan><tspan x="958.4">5</tspan><tspan x="1000.2">1</tspan><tspan x="1125.6">4</tspan><tspan x="1146.5">3</tspan><tspan x="1167.4">1</tspan><tspan x="1209.2">2</tspan></text>
<text class="g" y="14.8"><tspan x="435.9">4</tspan><tspan x="686.7">2</tspan><tspan x="874.8">14</tspan><tspan x="895.7">1</tspan><tspan x="1042">2</tspan><tspan x="1062.9">3</tspan><tspan x="1083.8">1</tspan></text>
<rect class="G" x="255" y="1.2" width="18.5" height="17.6"/><rect class="B" x="468.4" y="1.2" width="18.5" height="17.6"/><rect class="R" x="531.1" y="1.2" width="18.5" height="17.6"/><rect class="B" x="635.6" y="1.2" width="18.5" height="17.6"/><rect class="R" x="740.1" y="1.2" width="18.5" height="17.6"/><rect class="B" x="844.6" y="1.2" width="18.5" height="17.6"/><rect class="R" x="970" y="1.2" width="18.5" height="17.6"/><rect class="B" x="1095.4" y="1.2" width="18.5" height="17.6"/><rect class="R" x="1179" y="1.2" width="18.5" height="17.6"/>
<text class="w" y="14.8"><tspan x="264.3">3</tspan><tspan x="477.7">小</tspan><tspan x="540.4">奇</tspan><tspan x="644.9">质</tspan><tspan x="749.4">0</tspan><tspan x="853.9">升</tspan><tspan x="979.3">中</tspan><tspan x="1104.7">3</tspan><tspan x="1188.3">3</tspan></text>
</g>

<g transform="translate(0,282.7)">
<text class="k" y="14.8"><tspan x="41.5">2025175</tspan><tspan x="97.5">3,7,3</tspan><tspan x="142" class="rd">6</tspan><tspan x="154">1</tspan><tspan x="166" class="rd">6</tspan></text>
<text class="t" y="14.8"><tspan x="199.5">91</tspan><tspan x="222.5">4</tspan><tspan x="243.4">2</tspan><tspan x="264.3">1</tspan><tspan x="285.2">3</tspan><tspan x="306.1">5</tspan><tspan x="347.9">14</tspan><tspan x="368.8">6</tspan><tspan x="391.9">18</tspan><tspan x="540.4">1</tspan><tspan x="770.3">3</tspan><tspan x="791.2">2</tspan><tspan x="958.4">6</tspan><tspan x="1000.2">2</tspan><tspan x="1125.6">5</tspan><tspan x="1167.4">2</tspan><tspan x="1188.3">1</tspan><tspan x="1209.2">3</tspan></text>
<text class="g" y="14.8"><tspan x="477.7">1</tspan><tspan x="644.9">1</tspan><tspan x="874.8">15</tspan><tspan x="895.7">2</tspan><tspan x="1042">3</tspan><tspan x="1062.9">4</tspan><tspan x="1104.7">1</tspan></text>
<rect class="R" x="317.7" y="1.2" width="18.5" height="17.6"/><rect class="B" x="426.6" y="1.2" width="18.5" height="17.6"/><rect class="R" x="572.9" y="1.2" width="18.5" height="17.6"/><rect class="B" x="677.4" y="1.2" width="18.5" height="17.6"/><rect class="R" x="740.1" y="1.2" width="18.5" height="17.6"/><rect class="B" x="844.6" y="1.2" width="18.5" height="17.6"/><rect class="R" x="970" y="1.2" width="18.5" height="17.6"/><rect class="B" x="1074.5" y="1.2" width="18.5" height="17.6"/><rect class="R" x="1137.2" y="1.2" width="18.5" height="17.6"/>
<text class="w" y="14.8"><tspan x="327">6</tspan><tspan x="435.9">大</tspan><tspan x="582.2">偶</tspan><tspan x="686.7">合</tspan><tspan x="749.4">0</tspan><tspan x="853.9">升</tspan><tspan x="979.3">中</tspan><tspan x="1083.8">2</tspan><tspan x="1146.5">1</tspan></text>
</g>

<g transform="translate(0,302.3)">
<text class="k" y="14.8"><tspan x="41.5">2025176</tspan><tspan x="97.5">4,6,2</tspan><tspan x="142">1</tspan><tspan x="154" class="rd">2</tspan><tspan x="166" class="rd">2</tspan></text>
<text class="t" y="14.8"><tspan x="199.5">92</tspan><tspan x="222.5">5</tspan><tspan x="264.3">2</tspan><tspan x="285.2">4</tspan><tspan x="306.1">6</tspan><tspan x="327">1</tspan><tspan x="347.9">15</tspan><tspan x="368.8">7</tspan><tspan x="391.9">19</tspan><tspan x="540.4">2</tspan><tspan x="749.4">1</tspan><tspan x="770.3">4</tspan><tspan x="958.4">7</tspan><tspan x="979.3">1</tspan><tspan x="1125.6">6</tspan><tspan x="1146.5">1</tspan><tspan x="1188.3">2</tspan><tspan x="1209.2">4</tspan></text>
<text class="g" y="14.8"><tspan x="435.9">1</tspan><tspan x="686.7">1</tspan><tspan x="853.9">1</tspan><tspan x="874.8">16</tspan><tspan x="1042">4</tspan><tspan x="1062.9">5</tspan><tspan x="1104.7">2</tspan></text>
<rect class="R" x="234.1" y="1.2" width="18.5" height="17.6"/><rect class="B" x="468.4" y="1.2" width="18.5" height="17.6"/><rect class="R" x="572.9" y="1.2" width="18.5" height="17.6"/><rect class="B" x="635.6" y="1.2" width="18.5" height="17.6"/><rect class="R" x="781.9" y="1.2" width="18.5" height="17.6"/><rect class="B" x="886.4" y="1.2" width="18.5" height="17.6"/><rect class="R" x="990.9" y="1.2" width="18.5" height="17.6"/><rect class="B" x="1074.5" y="1.2" width="18.5" height="17.6"/><rect class="R" x="1158.1" y="1.2" width="18.5" height="17.6"/>
<text class="w" y="14.8"><tspan x="243.4">2</tspan><tspan x="477.7">小</tspan><tspan x="582.2">偶</tspan><tspan x="644.9">质</tspan><tspan x="791.2">2</tspan><tspan x="895.7">降</tspan><tspan x="1000.2">小</tspan><tspan x="1083.8">2</tspan><tspan x="1167.4">2</tspan></text>
</g>

<g transform="translate(0,321.9)">
<text class="k" y="14.8"><tspan x="41.5">2025177</tspan><tspan x="97.5">6,3,3</tspan><tspan x="142">4</tspan><tspan x="154">9</tspan><tspan x="166">7</tspan></text>
<text class="t" y="14.8"><tspan x="199.5">93</tspan><tspan x="222.5">6</tspan><tspan x="243.4">1</tspan><tspan x="264.3">3</tspan><tspan x="285.2">5</tspan><tspan x="306.1">7</tspan><tspan x="327">2</tspan><tspan x="368.8">8</tspan><tspan x="391.9">20</tspan><tspan x="582.2">1</tspan><tspan x="749.4">2</tspan><tspan x="791.2">1</tspan><tspan x="979.3">2</tspan><tspan x="1000.2">1</tspan><tspan x="1125.6">7</tspan><tspan x="1146.5">2</tspan><tspan x="1188.3">3</tspan><tspan x="1209.2">5</tspan></text>
<text class="g" y="14.8"><tspan x="477.7">1</tspan><tspan x="686.7">2</tspan><tspan x="874.8">17</tspan><tspan x="895.7">1</tspan><tspan x="1042">5</tspan><tspan x="1062.9">6</tspan><tspan x="1083.8">1</tspan></text>
<rect class="C" x="338.6" y="1.2" width="18.5" height="17.6"/><rect class="B" x="426.6" y="1.2" width="18.5" height="17.6"/><rect class="R" x="531.1" y="1.2" width="18.5" height="17.6"/><rect class="B" x="635.6" y="1.2" width="18.5" height="17.6"/><rect class="R" x="761" y="1.2" width="18.5" height="17.6"/><rect class="B" x="844.6" y="1.2" width="18.5" height="17.6"/><rect class="R" x="949.1" y="1.2" width="18.5" height="17.6"/><rect class="B" x="1095.4" y="1.2" width="18.5" height="17.6"/><rect class="R" x="1158.1" y="1.2" width="18.5" height="17.6"/>
<text class="w" y="14.8"><tspan x="347.9">7</tspan><tspan x="435.9">大</tspan><tspan x="540.4">奇</tspan><tspan x="644.9">质</tspan><tspan x="770.3">1</tspan><tspan x="853.9">升</tspan><tspan x="958.4">大</tspan><tspan x="1104.7">3</tspan><tspan x="1167.4">2</tspan></text>
</g>

<g transform="translate(0,341.5)">
<text class="k" y="14.8"><tspan x="41.5">2025178</tspan><tspan x="97.5">7,4,8</tspan><tspan x="142">7</tspan><tspan x="154">2</tspan><tspan x="166">8</tspan></text>
<text class="t" y="14.8"><tspan x="199.5">94</tspan><tspan x="222.5">7</tspan><tspan x="243.4">2</tspan><tspan x="264.3">4</tspan><tspan x="285.2">6</tspan><tspan x="306.1">8</tspan><tspan x="327">3</tspan><tspan x="368.8">9</tspan><tspan x="391.9">21</tspan><tspan x="582.2">2</tspan><tspan x="749.4">3</tspan><tspan x="791.2">2</tspan><tspan x="979.3">3</tspan><tspan x="1000.2">2</tspan><tspan x="1125.6">8</tspan><tspan x="1146.5">3</tspan><tspan x="1188.3">4</tspan><tspan x="1209.2">6</tspan></text>
<text class="g" y="14.8"><tspan x="477.7">2</tspan><tspan x="686.7">3</tspan><tspan x="853.9">1</tspan><tspan x="895.7">2</tspan><tspan x="1042">6</tspan><tspan x="1062.9">7</tspan><tspan x="1083.8">2</tspan></text>
<rect class="C" x="338.6" y="1.2" width="18.5" height="17.6"/><rect class="B" x="426.6" y="1.2" width="18.5" height="17.6"/><rect class="R" x="531.1" y="1.2" width="18.5" height="17.6"/><rect class="B" x="635.6" y="1.2" width="18.5" height="17.6"/><rect class="R" x="761" y="1.2" width="18.5" height="17.6"/><rect class="B" x="865.5" y="1.2" width="18.5" height="17.6"/><rect class="R" x="949.1" y="1.2" width="18.5" height="17.6"/><rect class="B" x="1095.4" y="1.2" width="18.5" height="17.6"/><rect class="R" x="1158.1" y="1.2" width="18.5" height="17.6"/><rect class="B" x="1220.8" y="1.2" width="10" height="17.6"/>
<text class="w" y="14.8"><tspan x="347.9">7</tspan><tspan x="435.9">大</tspan><tspan x="540.4">奇</tspan><tspan x="644.9">质</tspan><tspan x="770.3">1</tspan><tspan x="874.8">平</tspan><tspan x="958.4">大</tspan><tspan x="1104.7">3</tspan><tspan x="1167.4">2</tspan></text>
</g>

<g transform="translate(0,361.1)">
<text class="k" y="14.8"><tspan x="41.5">2025179</tspan><tspan x="97.5">0,8,7</tspan><tspan x="142">2</tspan><tspan x="154">8</tspan><tspan x="166">0</tspan></text>
<text class="t" y="14.8"><tspan x="199.5">95</tspan><tspan x="222.5">8</tspan><tspan x="264.3">5</tspan><tspan x="285.2">7</tspan><tspan x="306.1">9</tspan><tspan x="327">4</tspan><tspan x="347.9">1</tspan><tspan x="368.8">10</tspan><tspan x="391.9">22</tspan><tspan x="540.4">1</tspan><tspan x="749.4">4</tspan><tspan x="770.3">1</tspan><tspan x="958.4">1</tspan><tspan x="979.3">4</tspan><tspan x="1125.6">9</tspan><tspan x="1146.5">4</tspan><tspan x="1188.3">5</tspan><tspan x="1209.2">7</tspan></text>
<text class="g" y="14.8"><tspan x="435.9">1</tspan><tspan x="686.7">4</tspan><tspan x="853.9">2</tspan><tspan x="874.8">1</tspan><tspan x="1042">7</tspan><tspan x="1062.9">8</tspan><tspan x="1104.7">1</tspan></text>
<rect class="C" x="234.1" y="1.2" width="18.5" height="17.6"/><rect class="B" x="468.4" y="1.2" width="18.5" height="17.6"/><rect class="R" x="572.9" y="1.2" width="18.5" height="17.6"/><rect class="B" x="635.6" y="1.2" width="18.5" height="17.6"/><rect class="R" x="781.9" y="1.2" width="18.5" height="17.6"/><rect class="B" x="886.4" y="1.2" width="18.5" height="17.6"/><rect class="R" x="990.9" y="1.2" width="18.5" height="17.6"/><rect class="B" x="1074.5" y="1.2" width="18.5" height="17.6"/><rect class="R" x="1158.1" y="1.2" width="18.5" height="17.6"/>
<text class="w" y="14.8"><tspan x="243.4">2</tspan><tspan x="477.7">小</tspan><tspan x="582.2">偶</tspan><tspan x="644.9">质</tspan><tspan x="791.2">2</tspan><tspan x="895.7">降</tspan><tspan x="1000.2">小</tspan><tspan x="1083.8">2</tspan><tspan x="1167.4">2</tspan></text>
</g>

<g transform="translate(0,380.7)">
<text class="k" y="14.8"><tspan x="41.5">2025180</tspan><tspan x="97.5">4,5,0</tspan><tspan x="142">2</tspan><tspan x="154">6</tspan><tspan x="166">0</tspan></text>
<text class="t" y="14.8"><tspan x="199.5">96</tspan><tspan x="222.5">9</tspan><tspan x="264.3">6</tspan><tspan x="285.2">8</tspan><tspan x="306.1">10</tspan><tspan x="327">5</tspan><tspan x="347.9">2</tspan><tspan x="368.8">11</tspan><tspan x="391.9">23</tspan><tspan x="540.4">2</tspan><tspan x="749.4">5</tspan><tspan x="770.3">2</tspan><tspan x="958.4">2</tspan><tspan x="979.3">5</tspan><tspan x="1125.6">10</tspan><tspan x="1146.5">5</tspan><tspan x="1188.3">6</tspan><tspan x="1209.2">8</tspan></text>
<text class="g" y="14.8"><tspan x="435.9">2</tspan><tspan x="686.7">5</tspan><tspan x="853.9">3</tspan><tspan x="895.7">1</tspan><tspan x="1042">8</tspan><tspan x="1062.9">9</tspan><tspan x="1104.7">2</tspan></text>
<rect class="C" x="234.1" y="1.2" width="18.5" height="17.6"/><rect class="B" x="468.4" y="1.2" width="18.5" height="17.6"/><rect class="R" x="572.9" y="1.2" width="18.5" height="17.6"/><rect class="B" x="635.6" y="1.2" width="18.5" height="17.6"/><rect class="R" x="781.9" y="1.2" width="18.5" height="17.6"/><rect class="B" x="865.5" y="1.2" width="18.5" height="17.6"/><rect class="R" x="990.9" y="1.2" width="18.5" height="17.6"/><rect class="B" x="1074.5" y="1.2" width="18.5" height="17.6"/><rect class="R" x="1158.1" y="1.2" width="18.5" height="17.6"/><rect class="B" x="1220.8" y="1.2" width="10" height="17.6"/>
<text class="w" y="14.8"><tspan x="243.4">2</tspan><tspan x="477.7">小</tspan><tspan x="582.2">偶</tspan><tspan x="644.9">质</tspan><tspan x="791.2">2</tspan><tspan x="874.8">平</tspan><tspan x="1000.2">小</tspan><tspan x="1083.8">2</tspan><tspan x="1167.4">2</tspan></text>
</g>

<g transform="translate(0,400.3)">
<text class="k" y="14.8"><tspan x="41.5">2025181</tspan><tspan x="97.5">4,0,0</tspan><tspan x="142" class="rd">8</tspan><tspan x="154" class="rd">8</tspan><tspan x="166">6</tspan></text>
<text class="t" y="14.8"><tspan x="199.5">97</tspan><tspan x="222.5">10</tspan><tspan x="243.4">1</tspan><tspan x="264.3">7</tspan><tspan x="285.2">9</tspan><tspan x="306.1">11</tspan><tspan x="327">6</tspan><tspan x="347.9">3</tspan><tspan x="391.9">24</tspan><tspan x="540.4">3</tspan><tspan x="749.4">6</tspan><tspan x="770.3">3</tspan><tspan x="979.3">6</tspan><tspan x="1000.2">1</tspan><tspan x="1125.6">11</tspan><tspan x="1146.5">6</tspan><tspan x="1167.4">1</tspan><tspan x="1209.2">9</tspan></text>
<text class="g" y="14.8"><tspan x="477.7">1</tspan><tspan x="644.9">1</tspan><tspan x="874.8">1</tspan><tspan x="895.7">2</tspan><tspan x="1062.9">10</tspan><tspan x="1083.8">1</tspan><tspan x="1104.7">3</tspan></text>
<rect class="G" x="359.5" y="1.2" width="18.5" height="17.6"/><rect class="B" x="426.6" y="1.2" width="18.5" height="17.6"/><rect class="R" x="572.9" y="1.2" width="18.5" height="17.6"/><rect class="B" x="677.4" y="1.2" width="18.5" height="17.6"/><rect class="R" x="781.9" y="1.2" width="18.5" height="17.6"/><rect class="B" x="844.6" y="1.2" width="18.5" height="17.6"/><rect class="R" x="949.1" y="1.2" width="18.5" height="17.6"/><rect class="B" x="1032.7" y="1.2" width="18.5" height="17.6"/><rect class="R" x="1179" y="1.2" width="18.5" height="17.6"/>
<text class="w" y="14.8"><tspan x="368.8">8</tspan><tspan x="435.9">大</tspan><tspan x="582.2">偶</tspan><tspan x="686.7">合</tspan><tspan x="791.2">2</tspan><tspan x="853.9">升</tspan><tspan x="958.4">大</tspan><tspan x="1042">0</tspan><tspan x="1188.3">3</tspan></text>
</g>

<g transform="translate(0,419.9)">
<text class="k" y="14.8"><tspan x="41.5">2025182</tspan><tspan x="97.5">9,1,0</tspan><tspan x="142">7</tspan><tspan x="154">0</tspan><tspan x="166">8</tspan></text>
<text class="t" y="14.8"><tspan x="199.5">98</tspan><tspan x="222.5">11</tspan><tspan x="243.4">2</tspan><tspan x="264.3">8</tspan><tspan x="285.2">10</tspan><tspan x="306.1">12</tspan><tspan x="327">7</tspan><tspan x="368.8">1</tspan><tspan x="391.9">25</tspan><tspan x="582.2">1</tspan><tspan x="749.4">7</tspan><tspan x="791.2">1</tspan><tspan x="979.3">7</tspan><tspan x="1000.2">2</tspan><tspan x="1125.6">12</tspan><tspan x="1146.5">7</tspan><tspan x="1188.3">1</tspan><tspan x="1209.2">10</tspan></text>
<text class="g" y="14.8"><tspan x="477.7">2</tspan><tspan x="686.7">1</tspan><tspan x="853.9">1</tspan><tspan x="874.8">2</tspan><tspan x="1042">1</tspan><tspan x="1062.9">11</tspan><tspan x="1083.8">2</tspan></text>
<rect class="G" x="338.6" y="1.2" width="18.5" height="17.6"/><rect class="B" x="426.6" y="1.2" width="18.5" height="17.6"/><rect class="R" x="531.1" y="1.2" width="18.5" height="17.6"/><rect class="B" x="635.6" y="1.2" width="18.5" height="17.6"/><rect class="R" x="761" y="1.2" width="18.5" height="17.6"/><rect class="B" x="886.4" y="1.2" width="18.5" height="17.6"/><rect class="R" x="949.1" y="1.2" width="18.5" height="17.6"/><rect class="B" x="1095.4" y="1.2" width="18.5" height="17.6"/><rect class="R" x="1158.1" y="1.2" width="18.5" height="17.6"/>
<text class="w" y="14.8"><tspan x="347.9">7</tspan><tspan x="435.9">大</tspan><tspan x="540.4">奇</tspan><tspan x="644.9">质</tspan><tspan x="770.3">1</tspan><tspan x="895.7">降</tspan><tspan x="958.4">大</tspan><tspan x="1104.7">3</tspan><tspan x="1167.4">2</tspan></text>
</g>

<g transform="translate(0,439.5)">
<text class="k" y="14.8"><tspan x="41.5">2025183</tspan><tspan x="97.5">6,9,4</tspan><tspan x="142">7</tspan><tspan x="154" class="rd">4</tspan><tspan x="166" class="rd">4</tspan></text>
<text class="t" y="14.8"><tspan x="199.5">99</tspan><tspan x="222.5">12</tspan><tspan x="243.4">3</tspan><tspan x="264.3">9</tspan><tspan x="306.1">13</tspan><tspan x="327">8</tspan><tspan x="347.9">1</tspan><tspan x="368.8">2</tspan><tspan x="391.9">26</tspan><tspan x="540.4">1</tspan><tspan x="749.4">8</tspan><tspan x="791.2">2</tspan><tspan x="958.4">1</tspan><tspan x="1000.2">3</tspan><tspan x="1125.6">13</tspan><tspan x="1146.5">8</tspan><tspan x="1167.4">1</tspan><tspan x="1188.3">2</tspan></text>
<text class="g" y="14.8"><tspan x="435.9">1</tspan><tspan x="644.9">1</tspan><tspan x="853.9">2</tspan><tspan x="874.8">3</tspan><tspan x="1062.9">12</tspan><tspan x="1083.8">3</tspan><tspan x="1104.7">1</tspan></text>
<rect class="R" x="275.9" y="1.2" width="18.5" height="17.6"/><rect class="B" x="468.4" y="1.2" width="18.5" height="17.6"/><rect class="R" x="572.9" y="1.2" width="18.5" height="17.6"/><rect class="B" x="677.4" y="1.2" width="18.5" height="17.6"/><rect class="R" x="761" y="1.2" width="18.5" height="17.6"/><rect class="B" x="886.4" y="1.2" width="18.5" height="17.6"/><rect class="R" x="970" y="1.2" width="18.5" height="17.6"/><rect class="B" x="1032.7" y="1.2" width="18.5" height="17.6"/><rect class="R" x="1199.9" y="1.2" width="18.5" height="17.6"/>
<text class="w" y="14.8"><tspan x="285.2">4</tspan><tspan x="477.7">小</tspan><tspan x="582.2">偶</tspan><tspan x="686.7">合</tspan><tspan x="770.3">1</tspan><tspan x="895.7">降</tspan><tspan x="979.3">中</tspan><tspan x="1042">0</tspan><tspan x="1209.2">4</tspan></text>
</g>

<g transform="translate(0,459.1)">
<text class="k" y="14.8"><tspan x="41.5">2025184</tspan><tspan x="97.5">6,3,3</tspan><tspan x="142">7</tspan><tspan x="154" class="rd">9</tspan><tspan x="166" class="rd">9</tspan></text>
<text class="t" y="14.8"><tspan x="199.5">100</tspan><tspan x="222.5">13</tspan><tspan x="243.4">4</tspan><tspan x="264.3">10</tspan><tspan x="285.2">1</tspan><tspan x="306.1">14</tspan><tspan x="327">9</tspan><tspan x="347.9">2</tspan><tspan x="368.8">3</tspan><tspan x="582.2">1</tspan><tspan x="770.3">1</tspan><tspan x="791.2">3</tspan><tspan x="979.3">1</tspan><tspan x="1000.2">4</tspan><tspan x="1125.6">14</tspan><tspan x="1146.5">9</tspan><tspan x="1167.4">2</tspan><tspan x="1188.3">3</tspan></text>
<text class="g" y="14.8"><tspan x="477.7">1</tspan><tspan x="644.9">2</tspan><tspan x="874.8">4</tspan><tspan x="895.7">1</tspan><tspan x="1042">1</tspan><tspan x="1083.8">4</tspan><tspan x="1104.7">2</tspan></text>
<rect class="R" x="380.4" y="1.2" width="22.9" height="17.6"/><rect class="B" x="426.6" y="1.2" width="18.5" height="17.6"/><rect class="R" x="531.1" y="1.2" width="18.5" height="17.6"/><rect class="B" x="677.4" y="1.2" width="18.5" height="17.6"/><rect class="R" x="740.1" y="1.2" width="18.5" height="17.6"/><rect class="B" x="844.6" y="1.2" width="18.5" height="17.6"/><rect class="R" x="949.1" y="1.2" width="18.5" height="17.6"/><rect class="B" x="1053.6" y="1.2" width="18.5" height="17.6"/><rect class="R" x="1199.9" y="1.2" width="18.5" height="17.6"/>
<text class="w" y="14.8"><tspan x="391.9">9</tspan><tspan x="435.9">大</tspan><tspan x="540.4">奇</tspan><tspan x="686.7">合</tspan><tspan x="749.4">0</tspan><tspan x="853.9">升</tspan><tspan x="958.4">大</tspan><tspan x="1062.9">1</tspan><tspan x="1209.2">4</tspan></text>
</g>

<g transform="translate(0,478.7)">
<text class="k" y="14.8"><tspan x="41.5">2025185</tspan><tspan x="97.5">0,5,5</tspan><tspan x="142">1</tspan><tspan x="154">6</tspan><tspan x="166">4</tspan></text>
<text class="t" y="14.8"><tspan x="199.5">101</tspan><tspan x="222.5">14</tspan><tspan x="243.4">5</tspan><tspan x="264.3">11</tspan><tspan x="306.1">15</tspan><tspan x="327">10</tspan><tspan x="347.9">3</tspan><tspan x="368.8">4</tspan><tspan x="391.9">1</tspan><tspan x="540.4">1</tspan><tspan x="749.4">1</tspan><tspan x="791.2">4</tspan><tspan x="958.4">1</tspan><tspan x="1000.2">5</tspan><tspan x="1125.6">15</tspan><tspan x="1146.5">10</tspan><tspan x="1167.4">3</tspan><tspan x="1188.3">4</tspan></text>
<text class="g" y="14.8"><tspan x="435.9">1</tspan><tspan x="644.9">3</tspan><tspan x="853.9">1</tspan><tspan x="874.8">5</tspan><tspan x="1062.9">1</tspan><tspan x="1083.8">5</tspan><tspan x="1104.7">3</tspan></text>
<rect class="R" x="275.9" y="1.2" width="18.5" height="17.6"/><rect class="B" x="468.4" y="1.2" width="18.5" height="17.6"/><rect class="R" x="572.9" y="1.2" width="18.5" height="17.6"/><rect class="B" x="677.4" y="1.2" width="18.5" height="17.6"/><rect class="R" x="761" y="1.2" width="18.5" height="17.6"/><rect class="B" x="886.4" y="1.2" width="18.5" height="17.6"/><rect class="R" x="970" y="1.2" width="18.5" height="17.6"/><rect class="B" x="1032.7" y="1.2" width="18.5" height="17.6"/><rect class="R" x="1199.9" y="1.2" width="18.5" height="17.6"/>
<text class="w" y="14.8"><tspan x="285.2">4</tspan><tspan x="477.7">小</tspan><tspan x="582.2">偶</tspan><tspan x="686.7">合</tspan><tspan x="770.3">1</tspan><tspan x="895.7">降</tspan><tspan x="979.3">中</tspan><tspan x="1042">0</tspan><tspan x="1209.2">4</tspan></text>
</g>

<g transform="translate(0,498.3)">
<text class="k" y="14.8"><tspan x="41.5">2025186</tspan><tspan x="97.5">1,3,7</tspan><tspan x="142" class="rd">2</tspan><tspan x="154" class="rd">2</tspan><tspan x="166">7</tspan></text>
<text class="t" y="14.8"><tspan x="199.5">102</tspan><tspan x="222.5">15</tspan><tspan x="264.3">12</tspan><tspan x="285.2">1</tspan><tspan x="306.1">16</tspan><tspan x="327">11</tspan><tspan x="347.9">4</tspan><tspan x="368.8">5</tspan><tspan x="391.9">2</tspan><tspan x="540.4">2</tspan><tspan x="749.4">2</tspan><tspan x="770.3">1</tspan><tspan x="958.4">2</tspan><tspan x="979.3">1</tspan><tspan x="1125.6">16</tspan><tspan x="1146.5">11</tspan><tspan x="1188.3">5</tspan><tspan x="1209.2">1</tspan></text>
<text class="g" y="14.8"><tspan x="435.9">2</tspan><tspan x="686.7">1</tspan><tspan x="853.9">2</tspan><tspan x="874.8">6</tspan><tspan x="1042">1</tspan><tspan x="1062.9">2</tspan><tspan x="1104.7">4</tspan></text>
<rect class="R" x="234.1" y="1.2" width="18.5" height="17.6"/><rect class="B" x="468.4" y="1.2" width="18.5" height="17.6"/><rect class="R" x="572.9" y="1.2" width="18.5" height="17.6"/><rect class="B" x="635.6" y="1.2" width="18.5" height="17.6"/><rect class="R" x="781.9" y="1.2" width="18.5" height="17.6"/><rect class="B" x="886.4" y="1.2" width="18.5" height="17.6"/><rect class="R" x="990.9" y="1.2" width="18.5" height="17.6"/><rect class="B" x="1074.5" y="1.2" width="18.5" height="17.6"/><rect class="R" x="1158.1" y="1.2" width="18.5" height="17.6"/>
<text class="w" y="14.8"><tspan x="243.4">2</tspan><tspan x="477.7">小</tspan><tspan x="582.2">偶</tspan><tspan x="644.9">质</tspan><tspan x="791.2">2</tspan><tspan x="895.7">降</tspan><tspan x="1000.2">小</tspan><tspan x="1083.8">2</tspan><tspan x="1167.4">2</tspan></text>
</g>

<g transform="translate(0,517.9)">
<text class="k" y="14.8"><tspan x="41.5">2025187</tspan><tspan x="97.5">0,0,5</tspan><tspan x="142">7</tspan><tspan x="154">6</tspan><tspan x="166">1</tspan></text>
<text class="t" y="14.8"><tspan x="199.5">103</tspan><tspan x="222.5">16</tspan><tspan x="243.4">1</tspan><tspan x="264.3">13</tspan><tspan x="285.2">2</tspan><tspan x="306.1">17</tspan><tspan x="347.9">5</tspan><tspan x="368.8">6</tspan><tspan x="391.9">3</tspan><tspan x="540.4">3</tspan><tspan x="770.3">2</tspan><tspan x="791.2">1</tspan><tspan x="958.4">3</tspan><tspan x="1000.2">1</tspan><tspan x="1125.6">17</tspan><tspan x="1167.4">1</tspan><tspan x="1188.3">6</tspan><tspan x="1209.2">2</tspan></text>
<text class="g" y="14.8"><tspan x="477.7">1</tspan><tspan x="644.9">1</tspan><tspan x="874.8">7</tspan><tspan x="895.7">1</tspan><tspan x="1042">2</tspan><tspan x="1062.9">3</tspan><tspan x="1104.7">5</tspan></text>
<rect class="R" x="317.7" y="1.2" width="18.5" height="17.6"/><rect class="B" x="426.6" y="1.2" width="18.5" height="17.6"/><rect class="R" x="572.9" y="1.2" width="18.5" height="17.6"/><rect class="B" x="677.4" y="1.2" width="18.5" height="17.6"/><rect class="R" x="740.1" y="1.2" width="18.5" height="17.6"/><rect class="B" x="844.6" y="1.2" width="18.5" height="17.6"/><rect class="R" x="970" y="1.2" width="18.5" height="17.6"/><rect class="B" x="1074.5" y="1.2" width="18.5" height="17.6"/><rect class="R" x="1137.2" y="1.2" width="18.5" height="17.6"/>
<text class="w" y="14.8"><tspan x="327">6</tspan><tspan x="435.9">大</tspan><tspan x="582.2">偶</tspan><tspan x="686.7">合</tspan><tspan x="749.4">0</tspan><tspan x="853.9">升</tspan><tspan x="979.3">中</tspan><tspan x="1083.8">2</tspan><tspan x="1146.5">1</tspan></text>
</g>

<g transform="translate(0,537.5)">
<text class="k" y="14.8"><tspan x="41.5">2025188</tspan><tspan x="97.5">0,6,0</tspan><tspan x="142">0</tspan><tspan x="154">1</tspan><tspan x="166">8</tspan></text>
<text class="t" y="14.8"><tspan x="199.5">104</tspan><tspan x="243.4">2</tspan><tspan x="264.3">14</tspan><tspan x="285.2">3</tspan><tspan x="306.1">18</tspan><tspan x="327">1</tspan><tspan x="347.9">6</tspan><tspan x="368.8">7</tspan><tspan x="391.9">4</tspan><tspan x="582.2">1</tspan><tspan x="749.4">1</tspan><tspan x="791.2">2</tspan><tspan x="958.4">4</tspan><tspan x="979.3">1</tspan><tspan x="1125.6">18</tspan><tspan x="1167.4">2</tspan><tspan x="1188.3">7</tspan><tspan x="1209.2">3</tspan></text>
<text class="g" y="14.8"><tspan x="435.9">1</tspan><tspan x="686.7">1</tspan><tspan x="853.9">1</tspan><tspan x="874.8">8</tspan><tspan x="1042">3</tspan><tspan x="1083.8">1</tspan><tspan x="1104.7">6</tspan></text>
<rect class="R" x="213.2" y="1.2" width="18.5" height="17.6"/><rect class="B" x="468.4" y="1.2" width="18.5" height="17.6"/><rect class="R" x="531.1" y="1.2" width="18.5" height="17.6"/><rect class="B" x="635.6" y="1.2" width="18.5" height="17.6"/><rect class="R" x="761" y="1.2" width="18.5" height="17.6"/><rect class="B" x="886.4" y="1.2" width="18.5" height="17.6"/><rect class="R" x="990.9" y="1.2" width="18.5" height="17.6"/><rect class="B" x="1053.6" y="1.2" width="18.5" height="17.6"/><rect class="R" x="1137.2" y="1.2" width="18.5" height="17.6"/>
<text class="w" y="14.8"><tspan x="222.5">1</tspan><tspan x="477.7">小</tspan><tspan x="540.4">奇</tspan><tspan x="644.9">质</tspan><tspan x="770.3">1</tspan><tspan x="895.7">降</tspan><tspan x="1000.2">小</tspan><tspan x="1062.9">1</tspan><tspan x="1146.5">1</tspan></text>
</g>

<g transform="translate(0,557.1)">
<text class="k" y="14.8"><tspan x="41.5">2025189</tspan><tspan x="97.5">3,2,5</tspan><tspan x="142">9</tspan><tspan x="154">0</tspan><tspan x="166">7</tspan></text>
<text class="t" y="14.8"><tspan x="199.5">105</tspan><tspan x="222.5">1</tspan><tspan x="243.4">3</tspan><tspan x="264.3">15</tspan><tspan x="285.2">4</tspan><tspan x="306.1">19</tspan><tspan x="327">2</tspan><tspan x="368.8">8</tspan><tspan x="391.9">5</tspan><tspan x="582.2">2</tspan><tspan x="749.4">2</tspan><tspan x="791.2">3</tspan><tspan x="979.3">2</tspan><tspan x="1000.2">1</tspan><tspan x="1125.6">19</tspan><tspan x="1146.5">1</tspan><tspan x="1188.3">8</tspan><tspan x="1209.2">4</tspan></text>
<text class="g" y="14.8"><tspan x="477.7">1</tspan><tspan x="686.7">2</tspan><tspan x="874.8">9</tspan><tspan x="895.7">1</tspan><tspan x="1042">4</tspan><tspan x="1062.9">1</tspan><tspan x="1083.8">2</tspan></text>
<rect class="R" x="338.6" y="1.2" width="18.5" height="17.6"/><rect class="B" x="426.6" y="1.2" width="18.5" height="17.6"/><rect class="R" x="531.1" y="1.2" width="18.5" height="17.6"/><rect class="B" x="635.6" y="1.2" width="18.5" height="17.6"/><rect class="R" x="761" y="1.2" width="18.5" height="17.6"/><rect class="B" x="844.6" y="1.2" width="18.5" height="17.6"/><rect class="R" x="949.1" y="1.2" width="18.5" height="17.6"/><rect class="B" x="1095.4" y="1.2" width="18.5" height="17.6"/><rect class="R" x="1158.1" y="1.2" width="18.5" height="17.6"/>
<text class="w" y="14.8"><tspan x="347.9">7</tspan><tspan x="435.9">大</tspan><tspan x="540.4">奇</tspan><tspan x="644.9">质</tspan><tspan x="770.3">1</tspan><tspan x="853.9">升</tspan><tspan x="958.4">大</tspan><tspan x="1104.7">3</tspan><tspan x="1167.4">2</tspan></text>
</g>

<g transform="translate(0,576.7)">
<text class="k" y="14.8"><tspan x="41.5">2025190</tspan><tspan x="97.5">5,4,6</tspan><tspan x="142">4</tspan><tspan x="154">0</tspan><tspan x="166">2</tspan></text>
<text class="t" y="14.8"><tspan x="199.5">106</tspan><tspan x="222.5">2</tspan><tspan x="264.3">16</tspan><tspan x="285.2">5</tspan><tspan x="306.1">20</tspan><tspan x="327">3</tspan><tspan x="347.9">1</tspan><tspan x="368.8">9</tspan><tspan x="391.9">6</tspan><tspan x="540.4">1</tspan><tspan x="749.4">3</tspan><tspan x="770.3">1</tspan><tspan x="958.4">1</tspan><tspan x="979.3">3</tspan><tspan x="1125.6">20</tspan><tspan x="1146.5">2</tspan><tspan x="1188.3">9</tspan><tspan x="1209.2">5</tspan></text>
<text class="g" y="14.8"><tspan x="435.9">1</tspan><tspan x="686.7">3</tspan><tspan x="853.9">1</tspan><tspan x="874.8">10</tspan><tspan x="1042">5</tspan><tspan x="1062.9">2</tspan><tspan x="1104.7">1</tspan></text>
<rect class="C" x="234.1" y="1.2" width="18.5" height="17.6"/><rect class="B" x="468.4" y="1.2" width="18.5" height="17.6"/><rect class="R" x="572.9" y="1.2" width="18.5" height="17.6"/><rect class="B" x="635.6" y="1.2" width="18.5" height="17.6"/><rect class="R" x="781.9" y="1.2" width="18.5" height="17.6"/><rect class="B" x="886.4" y="1.2" width="18.5" height="17.6"/><rect class="R" x="990.9" y="1.2" width="18.5" height="17.6"/><rect class="B" x="1074.5" y="1.2" width="18.5" height="17.6"/><rect class="R" x="1158.1" y="1.2" width="18.5" height="17.6"/>
<text class="w" y="14.8"><tspan x="243.4">2</tspan><tspan x="477.7">小</tspan><tspan x="582.2">偶</tspan><tspan x="644.9">质</tspan><tspan x="791.2">2</tspan><tspan x="895.7">降</tspan><tspan x="1000.2">小</tspan><tspan x="1083.8">2</tspan><tspan x="1167.4">2</tspan></text>
</g>

<g transform="translate(0,596.3)">
<text class="k" y="14.8"><tspan x="41.5">2025191</tspan><tspan x="97.5">2,2,9</tspan><tspan x="142" class="rd">2</tspan><tspan x="154">0</tspan><tspan x="166" class="rd">2</tspan></text>
<text class="t" y="14.8"><tspan x="199.5">107</tspan><tspan x="222.5">3</tspan><tspan x="264.3">17</tspan><tspan x="285.2">6</tspan><tspan x="306.1">21</tspan><tspan x="327">4</tspan><tspan x="347.9">2</tspan><tspan x="368.8">10</tspan><tspan x="391.9">7</tspan><tspan x="540.4">2</tspan><tspan x="749.4">4</tspan><tspan x="770.3">2</tspan><tspan x="958.4">2</tspan><tspan x="979.3">4</tspan><tspan x="1125.6">21</tspan><tspan x="1146.5">3</tspan><tspan x="1188.3">10</tspan><tspan x="1209.2">6</tspan></text>
<text class="g" y="14.8"><tspan x="435.9">2</tspan><tspan x="686.7">4</tspan><tspan x="853.9">2</tspan><tspan x="895.7">1</tspan><tspan x="1042">6</tspan><tspan x="1062.9">3</tspan><tspan x="1104.7">2</tspan></text>
<rect class="C" x="234.1" y="1.2" width="18.5" height="17.6"/><rect class="B" x="468.4" y="1.2" width="18.5" height="17.6"/><rect class="R" x="572.9" y="1.2" width="18.5" height="17.6"/><rect class="B" x="635.6" y="1.2" width="18.5" height="17.6"/><rect class="R" x="781.9" y="1.2" width="18.5" height="17.6"/><rect class="B" x="865.5" y="1.2" width="18.5" height="17.6"/><rect class="R" x="990.9" y="1.2" width="18.5" height="17.6"/><rect class="B" x="1074.5" y="1.2" width="18.5" height="17.6"/><rect class="R" x="1158.1" y="1.2" width="18.5" height="17.6"/><rect class="B" x="1220.8" y="1.2" width="10" height="17.6"/>
<text class="w" y="14.8"><tspan x="243.4">2</tspan><tspan x="477.7">小</tspan><tspan x="582.2">偶</tspan><tspan x="644.9">质</tspan><tspan x="791.2">2</tspan><tspan x="874.8">平</tspan><tspan x="1000.2">小</tspan><tspan x="1083.8">2</tspan><tspan x="1167.4">2</tspan></text>
</g>

<g transform="translate(0,615.9)">
<text class="k" y="14.8"><tspan x="41.5">2025192</tspan><tspan x="97.5">0,5,3</tspan><tspan x="142">6</tspan><tspan x="154">9</tspan><tspan x="166">1</tspan></text>
<text class="t" y="14.8"><tspan x="199.5">108</tspan><tspan x="222.5">4</tspan><tspan x="243.4">1</tspan><tspan x="264.3">18</tspan><tspan x="285.2">7</tspan><tspan x="306.1">22</tspan><tspan x="347.9">3</tspan><tspan x="368.8">11</tspan><tspan x="391.9">8</tspan><tspan x="540.4">3</tspan><tspan x="770.3">3</tspan><tspan x="791.2">1</tspan><tspan x="958.4">3</tspan><tspan x="1000.2">1</tspan><tspan x="1125.6">22</tspan><tspan x="1167.4">1</tspan><tspan x="1188.3">11</tspan><tspan x="1209.2">7</tspan></text>
<text class="g" y="14.8"><tspan x="477.7">1</tspan><tspan x="644.9">1</tspan><tspan x="874.8">1</tspan><tspan x="895.7">2</tspan><tspan x="1042">7</tspan><tspan x="1062.9">4</tspan><tspan x="1104.7">3</tspan></text>
<rect class="R" x="317.7" y="1.2" width="18.5" height="17.6"/><rect class="B" x="426.6" y="1.2" width="18.5" height="17.6"/><rect class="R" x="572.9" y="1.2" width="18.5" height="17.6"/><rect class="B" x="677.4" y="1.2" width="18.5" height="17.6"/><rect class="R" x="740.1" y="1.2" width="18.5" height="17.6"/><rect class="B" x="844.6" y="1.2" width="18.5" height="17.6"/><rect class="R" x="970" y="1.2" width="18.5" height="17.6"/><rect class="B" x="1074.5" y="1.2" width="18.5" height="17.6"/><rect class="R" x="1137.2" y="1.2" width="18.5" height="17.6"/>
<text class="w" y="14.8"><tspan x="327">6</tspan><tspan x="435.9">大</tspan><tspan x="582.2">偶</tspan><tspan x="686.7">合</tspan><tspan x="749.4">0</tspan><tspan x="853.9">升</tspan><tspan x="979.3">中</tspan><tspan x="1083.8">2</tspan><tspan x="1146.5">1</tspan></text>
</g>

<!-- prediction rows -->
<text class="k" y="650.3"><tspan x="41.5">预测1</tspan></text>
<text class="k" y="669.9"><tspan x="41.5">预测2</tspan></text>

<!-- thick blue section lines -->
<path fill="none" stroke="#1b5fcb" stroke-width="2.5" d="M187 47.5V635.5M404.5 47.5V635.5M509 47.5V635.5M613.5 47.5V635.5M718 47.5V635.5M822.5 47.5V635.5M927 47.5V635.5M1031.5 47.5V635.5M1115.1 47.5V635.5M1219.6 47.5V635.5M8 147H1225M8 245H1225M8 343H1225M8 441H1225M8 539H1225"/>

<!-- red frames -->
<rect x="421.5" y="42.2" width="25" height="592.3" fill="none" stroke="#ec1c24" stroke-width="3"/>
<rect x="675" y="43" width="19.7" height="596.5" fill="none" stroke="#ec1c24" stroke-width="3"/>
</svg>
</body></html>
